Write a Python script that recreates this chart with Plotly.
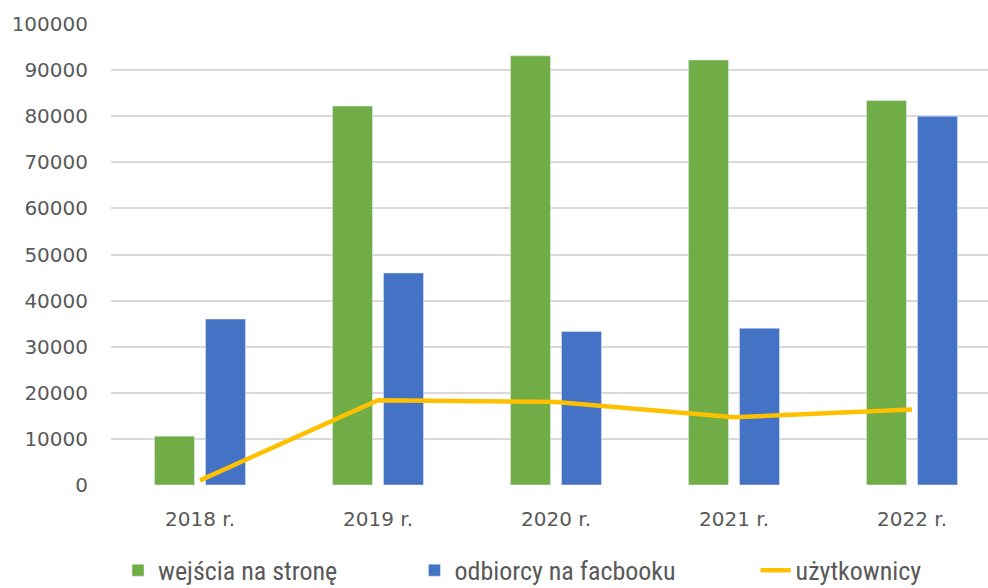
import plotly.graph_objects as go

years = ["2018 r.", "2019 r.", "2020 r.", "2021 r.", "2022 r."]
wejscia = [10600, 82200, 93100, 92200, 83400]
odbiorcy = [36000, 46000, 33300, 34000, 80000]
uzytkownicy = [1000, 18400, 18000, 14700, 16400]
y_ticks = [0, 10000, 20000, 30000, 40000, 50000, 60000, 70000, 80000, 90000, 100000]

fig = go.Figure()
fig.add_trace(go.Bar(x=years, y=wejscia, name="wejścia na stronę", marker_color="#70ad47",
                     legend="legend", showlegend=True))
fig.add_trace(go.Bar(x=years, y=odbiorcy, name="odbiorcy na facbooku", marker_color="#4472c4",
                     legend="legend2", showlegend=True))
fig.add_trace(go.Scatter(x=years, y=uzytkownicy, name="użytkownicy", mode="lines",
                         line=dict(color="#ffc000", width=4.5), legend="legend3", showlegend=True))

legend_font = dict(family="Liberation Sans Narrow, Roboto Condensed, sans-serif", size=26, color="#595959")
def leg(x):
    return dict(orientation="h", x=x, xanchor="left", y=-0.185, yanchor="middle",
                font=legend_font, bgcolor="rgba(0,0,0,0)")

fig.update_layout(
    width=988, height=588,
    showlegend=True,
    margin=dict(l=111, r=0, t=24, b=103, autoexpand=False),
    paper_bgcolor="white", plot_bgcolor="white",
    barmode="group", bargap=0.427, bargroupgap=0.216,
    font=dict(family="DejaVu Sans", color="#595959", size=20),
    legend=leg(0.008), legend2=leg(0.346), legend3=leg(0.735),
    xaxis=dict(type="category", range=[-0.5, 4.427], showgrid=False, showline=False,
               ticks="", ticklabelstandoff=20, tickfont=dict(size=20)),
    yaxis=dict(range=[0, 100000], tickvals=y_ticks, ticktext=[str(v) for v in y_ticks],
               showgrid=True, gridcolor="#d9d9d9", gridwidth=1.5, zeroline=False,
               showline=False, ticks="", ticklabelstandoff=22, tickfont=dict(size=20)),
)

fig.write_html("out.html", config={"displayModeBar": False},
               post_script="document.body.style.margin='0';document.body.style.overflow='hidden';")
